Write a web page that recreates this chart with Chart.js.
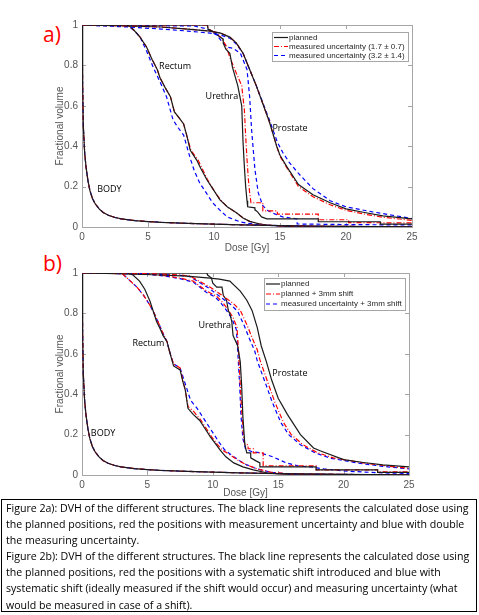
<!DOCTYPE html>
<html>
<head>
<meta charset="utf-8">
<script src="https://cdn.jsdelivr.net/npm/chart.js@4.4.0/dist/chart.umd.min.js"></script>
<style>
    body { margin: 0; background: #fff; width: 479px; height: 615px; position: relative; overflow: hidden; }
    canvas { position: absolute; left: 0; }
    #chartA { top: 0; }
    #chartB { top: 250px; }
    .tag { position: absolute; left: 43px; color: #ff0000; font-family: "Open Sans", sans-serif; font-size: 21px; line-height: 21px; }
    #caption {
        position: absolute; left: 1px; top: 499px; width: 470px; height: 111px;
        border: 1px solid #000; padding: 0 0 0 4px;
        font-family: "Open Sans", sans-serif; font-size: 10.6px; line-height: 16.1px; color: #000; white-space: nowrap;
    }
</style>
</head>
<body>
<div class="tag" style="top:24px">a)</div>
<div class="tag" style="top:253px">b)</div>
<canvas id="chartA" width="479" height="258"></canvas>
<canvas id="chartB" width="479" height="258"></canvas>
<div id="caption">Figure 2a): DVH of the different structures. The black line represents the calculated dose using<br>the planned positions, red the positions with measurement uncertainty and blue with double<br>the measuring uncertainty.<br>Figure 2b): DVH of the different structures. The black line represents the calculated dose using<br>the planned positions, red the positions with a systematic shift introduced and blue with<br>systematic shift (ideally measured if the shift would occur) and measuring uncertainty (what<br>would be measured in case of a shift).</div>

<script>
//---- data: dose [Gy] and fractional volume per curve ----

// BODY is the same for every curve
const bodyDose = [0, 0.05, 0.1, 0.2, 0.3, 0.45, 0.6, 0.8, 1.0, 1.3, 1.6, 2, 2.5, 3, 4, 5, 6, 8, 10, 12, 15, 18, 22, 25];
const bodyVol = [1, 0.7, 0.5, 0.37, 0.3, 0.23, 0.18, 0.14, 0.115, 0.09, 0.072, 0.058, 0.047, 0.04, 0.032, 0.027, 0.023, 0.018, 0.014, 0.011, 0.007, 0.004, 0.002, 0.001];

// --- figure a) ---
const rectumDoseA = [0, 3.4, 3.7, 4.0, 4.4, 4.9, 5.3, 5.7, 5.9, 6.3, 6.7, 7.0, 7.3, 7.7, 7.95, 8.2, 8.7, 9.0, 9.45, 10.0, 10.45, 11.0, 11.7, 12.2, 12.7, 13.4, 14.0, 15, 16, 25];
const rectumVolA = [1, 1, 0.99, 0.97, 0.94, 0.89, 0.83, 0.78, 0.74, 0.69, 0.645, 0.57, 0.545, 0.51, 0.45, 0.38, 0.33, 0.29, 0.235, 0.18, 0.134, 0.1, 0.07, 0.045, 0.028, 0.016, 0.01, 0.005, 0.002, 0];
const rectumDoseA2 = [0, 3.4, 3.7, 4.0, 4.4, 4.9, 5.3, 5.7, 5.9, 6.3, 6.7, 7.0, 7.3, 7.7, 7.95, 8.25, 8.8, 9.1, 9.5, 10.0, 10.5, 11.0, 11.7, 12.2, 12.7, 13.4, 14.0, 15, 16, 25];
const rectumVolA2 = [1, 1, 0.99, 0.97, 0.94, 0.89, 0.83, 0.78, 0.74, 0.69, 0.645, 0.57, 0.545, 0.51, 0.45, 0.38, 0.33, 0.29, 0.235, 0.18, 0.134, 0.1, 0.07, 0.045, 0.028, 0.016, 0.01, 0.005, 0.002, 0];
const rectumDoseA3 = [0, 3.0, 3.6, 4.0, 4.4, 4.9, 5.4, 5.9, 6.4, 6.9, 7.3, 7.7, 8.2, 8.5, 8.9, 9.4, 9.9, 10.5, 11, 12, 13, 14, 16, 25];
const rectumVolA3 = [1, 1, 0.99, 0.97, 0.94, 0.87, 0.79, 0.72, 0.645, 0.53, 0.49, 0.455, 0.34, 0.28, 0.22, 0.17, 0.12, 0.08, 0.05, 0.025, 0.014, 0.008, 0.003, 0];

const urethraDoseA = [0, 9.5, 9.55, 10.0, 10.45, 10.7, 10.7, 10.9, 11.2, 11.4, 11.8, 12.1, 12.2, 12.3, 12.4, 12.5, 12.55, 13.1, 13.1, 13.3, 13.6, 14.0, 17.9, 17.9, 22.6, 22.6, 25];
const urethraVolA = [1, 1, 0.98, 0.965, 0.94, 0.93, 0.91, 0.88, 0.86, 0.79, 0.7, 0.6, 0.42, 0.3, 0.2, 0.13, 0.1, 0.095, 0.085, 0.075, 0.05, 0.04, 0.04, 0.026, 0.026, 0.014, 0.014];
const urethraDoseA2 = [0, 9.5, 9.6, 10.0, 10.5, 10.9, 11.2, 11.7, 12.1, 12.3, 12.4, 12.5, 12.6, 12.7, 12.8, 13.7, 13.7, 14.8, 14.8, 17.9, 17.9, 20.2, 20.2, 25];
const urethraVolA2 = [1, 1, 0.98, 0.965, 0.94, 0.9, 0.84, 0.76, 0.7, 0.58, 0.45, 0.335, 0.24, 0.17, 0.12, 0.12, 0.08, 0.08, 0.064, 0.064, 0.036, 0.036, 0.022, 0.02];
const urethraDoseA3 = [0, 8.5, 9.5, 10.2, 10.7, 11.0, 11.45, 12.0, 12.5, 12.7, 12.85, 13.1, 13.35, 13.7, 14.1, 14.6, 15.2, 16.3, 16.3, 20, 25];
const urethraVolA3 = [1, 0.995, 0.98, 0.95, 0.91, 0.89, 0.885, 0.86, 0.78, 0.645, 0.48, 0.285, 0.17, 0.105, 0.08, 0.065, 0.05, 0.04, 0.015, 0.012, 0.01];

const prostateDoseA = [0, 3.5, 6, 8, 9.7, 10.5, 11.2, 11.7, 12.2, 12.7, 13.2, 13.7, 14.2, 14.75, 15.0, 15.5, 16.4, 17.5, 18.8, 20, 21.3, 22.8, 25];
const prostateVolA = [1, 0.995, 0.99, 0.98, 0.97, 0.96, 0.94, 0.91, 0.86, 0.78, 0.70, 0.61, 0.52, 0.40, 0.355, 0.30, 0.21, 0.16, 0.12, 0.09, 0.073, 0.055, 0.04];
const prostateDoseA2 = [0, 3.5, 6, 8, 9.7, 10.5, 11.2, 11.7, 12.2, 12.7, 13.2, 13.7, 14.2, 14.75, 15.0, 15.5, 16.4, 17.5, 18.8, 20, 21.3, 22.8, 25];
const prostateVolA2 = [1, 0.995, 0.99, 0.98, 0.97, 0.96, 0.94, 0.91, 0.86, 0.78, 0.70, 0.61, 0.52, 0.40, 0.35, 0.295, 0.2, 0.15, 0.11, 0.083, 0.065, 0.048, 0.033];
const prostateDoseA3 = [0, 3.5, 6, 8, 9.7, 10.5, 11.2, 11.7, 12.2, 12.7, 13.2, 13.7, 14.2, 14.8, 15.2, 15.7, 16.4, 17.5, 18.8, 20, 22, 25];
const prostateVolA3 = [1, 0.99, 0.98, 0.97, 0.96, 0.95, 0.935, 0.905, 0.86, 0.78, 0.70, 0.615, 0.53, 0.42, 0.37, 0.32, 0.265, 0.19, 0.13, 0.1, 0.075, 0.042];

// --- figure b) ---
const rectumDoseB = [0, 3.4, 3.9, 4.4, 4.8, 5.2, 5.7, 6.0, 6.2, 6.5, 6.7, 7.0, 7.5, 7.7, 7.9, 8.1, 8.5, 9.0, 9.4, 9.8, 10.2, 10.55, 11.0, 11.6, 12.3, 13.1, 14.2, 15.5, 25];
const rectumVolB = [1, 1, 0.99, 0.96, 0.92, 0.86, 0.76, 0.72, 0.69, 0.66, 0.61, 0.54, 0.52, 0.465, 0.42, 0.33, 0.3, 0.27, 0.23, 0.19, 0.155, 0.124, 0.09, 0.06, 0.04, 0.025, 0.01, 0.004, 0];
const rectumDoseB2 = [0, 3.0, 3.2, 3.7, 4.2, 4.7, 5.1, 5.45, 5.8, 6.2, 6.5, 6.7, 7.0, 7.5, 7.7, 7.9, 8.1, 8.6, 9.1, 9.5, 9.9, 10.3, 10.7, 11.3, 12.0, 12.6, 13.4, 14.5, 16, 25];
const rectumVolB2 = [1, 1, 0.99, 0.96, 0.93, 0.89, 0.85, 0.81, 0.76, 0.7, 0.66, 0.61, 0.55, 0.53, 0.47, 0.42, 0.34, 0.31, 0.27, 0.23, 0.19, 0.155, 0.125, 0.1, 0.07, 0.05, 0.03, 0.013, 0.004, 0];
const rectumDoseB3 = [0, 3.0, 3.2, 3.7, 4.2, 4.7, 5.1, 5.45, 5.8, 6.2, 6.5, 6.7, 7.0, 7.5, 7.8, 8.0, 8.3, 8.8, 9.3, 9.7, 10.1, 10.5, 10.9, 11.4, 12.0, 12.6, 13.4, 14.5, 16, 25];
const rectumVolB3 = [1, 1, 0.99, 0.96, 0.93, 0.89, 0.85, 0.81, 0.76, 0.7, 0.66, 0.61, 0.55, 0.53, 0.47, 0.43, 0.37, 0.33, 0.28, 0.24, 0.2, 0.16, 0.125, 0.1, 0.072, 0.05, 0.03, 0.013, 0.004, 0];

const urethraDoseB = [0, 9.55, 9.6, 9.9, 10.0, 10.3, 10.7, 10.8, 11.05, 11.2, 11.3, 11.45, 11.55, 11.9, 12.1, 12.2, 12.3, 12.45, 12.6, 12.9, 12.9, 13.3, 13.6, 13.6, 17.9, 17.9, 22.6, 22.6, 25];
const urethraVolB = [1, 1, 0.99, 0.975, 0.95, 0.93, 0.93, 0.89, 0.865, 0.81, 0.8, 0.76, 0.69, 0.64, 0.56, 0.45, 0.29, 0.15, 0.11, 0.11, 0.085, 0.07, 0.06, 0.04, 0.04, 0.025, 0.025, 0.013, 0.013];
const urethraDoseB2 = [0, 5, 6.5, 7.5, 8.5, 9.55, 10.3, 10.8, 11.2, 11.55, 11.85, 11.95, 12.1, 12.2, 12.35, 12.45, 12.7, 12.7, 13.1, 13.1, 13.85, 13.85, 17.9, 17.9, 22.6, 22.6, 25];
const urethraVolB2 = [1, 0.995, 0.985, 0.975, 0.96, 0.91, 0.885, 0.85, 0.815, 0.78, 0.73, 0.63, 0.45, 0.33, 0.19, 0.15, 0.15, 0.13, 0.13, 0.11, 0.11, 0.045, 0.045, 0.025, 0.025, 0.015, 0.015];
const urethraDoseB3 = [0, 5, 6.5, 7.5, 8.5, 9.5, 10.2, 10.7, 11.1, 11.45, 11.8, 11.9, 12.05, 12.15, 12.3, 12.5, 13.0, 13.6, 14.6, 15.6, 16.5, 17.5, 18.5, 20, 23, 25];
const urethraVolB3 = [1, 0.995, 0.983, 0.972, 0.955, 0.905, 0.88, 0.845, 0.81, 0.775, 0.72, 0.62, 0.45, 0.3, 0.18, 0.13, 0.115, 0.11, 0.09, 0.06, 0.045, 0.04, 0.03, 0.02, 0.01, 0.008];

const prostateDoseB = [0, 3.5, 6, 8, 9.8, 10.5, 11.3, 12.1, 12.6, 13.0, 13.4, 13.7, 14.1, 14.5, 15.0, 15.7, 16.7, 17.7, 18.2, 20, 21.5, 23, 25];
const prostateVolB = [1, 0.995, 0.99, 0.985, 0.975, 0.97, 0.96, 0.91, 0.865, 0.815, 0.73, 0.64, 0.56, 0.47, 0.38, 0.30, 0.2, 0.134, 0.12, 0.076, 0.062, 0.05, 0.04];
const prostateDoseB2 = [0, 3, 6, 7.5, 8.25, 9.8, 10.8, 11.55, 12.1, 12.6, 13.0, 13.4, 13.6, 14.25, 14.75, 15.4, 16.0, 16.9, 18, 19.2, 21.5, 23, 25];
const prostateVolB2 = [1, 0.998, 0.995, 0.99, 0.985, 0.93, 0.885, 0.85, 0.815, 0.745, 0.68, 0.62, 0.57, 0.45, 0.36, 0.26, 0.2, 0.15, 0.11, 0.085, 0.06, 0.047, 0.033];
const prostateDoseB3 = [0, 3, 6, 7.5, 8.25, 9.7, 10.6, 11.35, 11.9, 12.4, 12.8, 13.2, 13.4, 14.05, 14.55, 15.2, 15.8, 16.7, 17.8, 19, 21.3, 23, 25];
const prostateVolB3 = [1, 0.998, 0.993, 0.988, 0.982, 0.925, 0.88, 0.845, 0.81, 0.74, 0.675, 0.615, 0.565, 0.45, 0.36, 0.26, 0.2, 0.15, 0.11, 0.083, 0.057, 0.043, 0.03];

// legend texts and structure labels
const legendA = ["planned", "measured uncertainty (1.7 \u00b1 0.7)", "measured uncertainty (3.2 \u00b1 1.4)"];
const legendB = ["planned", "planned + 3mm shift", "measured uncertainty + 3mm shift"];
const structNames = ["BODY", "Rectum", "Urethra", "Prostate"];
const structDoseA = [2.08, 7.05, 10.6, 15.76];
const structVolA = [0.188, 0.797, 0.644, 0.49];
const structDoseB = [1.61, 5.08, 10.15, 15.9];
const structVolB = [0.208, 0.649, 0.738, 0.505];

const xTicks = [0, 5, 10, 15, 20, 25];

//---- helpers ----
function pts(xs, ys) {
    return xs.map((x, i) => ({ x: x, y: ys[i] }));
}

// line style per series: 0 planned, 1 red dash-dot, 2 blue dashed
const styles = [
    { color: "#1a1a1a", dash: [] },
    { color: "#ff0000", dash: [5, 2, 1, 2] },
    { color: "#0000ff", dash: [4, 3] }
];

function makeSet(label, xs, ys, k, showInLegend) {
    return {
        label: label,
        data: pts(xs, ys),
        borderColor: styles[k].color,
        borderDash: styles[k].dash,
        borderWidth: 1.2,
        pointRadius: 0,
        fill: false,
        tension: 0,
        inLegend: showInLegend
    };
}

// frame box plus MATLAB style inner ticks
const frameTicks = {
    id: "frameTicks",
    beforeDatasetsDraw(chart) {
        const { ctx, chartArea: a, scales } = chart;
        ctx.save();
        ctx.strokeStyle = "#a6a6a6";
        ctx.lineWidth = 1;
        ctx.strokeRect(a.left + 0.5, a.top + 0.5, a.right - a.left, a.bottom - a.top);
        ctx.beginPath();
        scales.x.ticks.forEach(t => {
            const px = Math.round(scales.x.getPixelForValue(t.value)) + 0.5;
            ctx.moveTo(px, a.bottom); ctx.lineTo(px, a.bottom - 4);
            ctx.moveTo(px, a.top); ctx.lineTo(px, a.top + 4);
        });
        scales.y.ticks.forEach(t => {
            const py = Math.round(scales.y.getPixelForValue(t.value)) + 0.5;
            ctx.moveTo(a.left, py); ctx.lineTo(a.left + 4, py);
            ctx.moveTo(a.right, py); ctx.lineTo(a.right - 4, py);
        });
        ctx.stroke();
        ctx.restore();
    }
};

// structure names written at data positions
const structLabels = {
    id: "structLabels",
    afterDatasetsDraw(chart, args, opts) {
        const { ctx, scales } = chart;
        ctx.save();
        ctx.font = '9px "Open Sans"';
        ctx.fillStyle = "#000";
        ctx.textAlign = "center";
        ctx.textBaseline = "middle";
        opts.names.forEach((n, i) => {
            ctx.fillText(n, scales.x.getPixelForValue(opts.xs[i]), scales.y.getPixelForValue(opts.ys[i]));
        });
        ctx.restore();
    }
};

// boxed legend in the top right corner
const boxLegend = {
    id: "boxLegend",
    afterDraw(chart, args, opts) {
        const { ctx, chartArea: a } = chart;
        const items = chart.data.datasets.filter(d => d.inLegend);
        ctx.save();
        ctx.font = '8px "Liberation Sans"';
        let tw = 0;
        items.forEach(d => { tw = Math.max(tw, ctx.measureText(d.label).width); });
        const w = opts.sample + 3 + tw + 3;
        const h = items.length * opts.row + 2;
        const left = Math.round(a.right - opts.right - w);
        const top = Math.round(a.top + opts.top);
        ctx.fillStyle = "#fff";
        ctx.fillRect(left, top, w, h);
        ctx.strokeStyle = "#a6a6a6";
        ctx.lineWidth = 1;
        ctx.strokeRect(left + 0.5, top + 0.5, Math.round(w), Math.round(h));
        items.forEach((d, i) => {
            const yy = top + 1 + opts.row * (i + 0.5);
            ctx.beginPath();
            ctx.setLineDash(d.borderDash);
            ctx.strokeStyle = d.borderColor;
            ctx.lineWidth = 1.2;
            ctx.moveTo(left + 2, yy);
            ctx.lineTo(left + 2 + opts.sample, yy);
            ctx.stroke();
            ctx.setLineDash([]);
            ctx.fillStyle = "#262626";
            ctx.textBaseline = "middle";
            ctx.fillText(d.label, left + opts.sample + 3, yy);
        });
        ctx.restore();
    }
};

function drawChart(id, sets, pad, yWidth, xHeight, labelPos, legendPos) {
    const ctx = document.getElementById(id).getContext("2d");
    return new Chart(ctx, {
        type: "line",
        data: { datasets: sets },
        options: {
            responsive: false,
            animation: false,
            layout: { padding: pad },
            plugins: {
                legend: { display: false },
                tooltip: { enabled: false },
                structLabels: labelPos,
                boxLegend: legendPos
            },
            scales: {
                x: {
                    type: "linear", min: 0, max: 25,
                    afterBuildTicks: s => { s.ticks = xTicks.map(v => ({ value: v })); },
                    afterFit: s => { s.height = xHeight; },
                    grid: { display: false, drawTicks: false },
                    border: { display: false },
                    ticks: { color: "#555", padding: 4, font: { family: "Liberation Sans", size: 10 }, maxRotation: 0, autoSkip: false },
                    title: { display: true, text: "Dose [Gy]", color: "#555", padding: { top: 0, bottom: 4 }, font: { family: "Liberation Sans", size: 10 } }
                },
                y: {
                    type: "linear", min: 0, max: 1,
                    afterFit: s => { s.width = yWidth; },
                    grid: { display: false, drawTicks: false },
                    border: { display: false },
                    ticks: {
                        color: "#555", padding: 4, stepSize: 0.2, font: { family: "Liberation Sans", size: 10 },
                        callback: v => String(Number(v.toFixed(1)))
                    },
                    title: { display: true, text: "Fractional volume", color: "#555", padding: { top: 4, bottom: 0 }, font: { family: "Liberation Sans", size: 10 } }
                }
            }
        },
        plugins: [frameTicks, structLabels, boxLegend]
    });
}

document.addEventListener("DOMContentLoaded", () => {
    //1. figure a)
    const setsA = [
        makeSet(legendA[0], prostateDoseA, prostateVolA, 0, true),
        makeSet(legendA[1], prostateDoseA2, prostateVolA2, 1, true),
        makeSet(legendA[2], prostateDoseA3, prostateVolA3, 2, true),
        makeSet("body", bodyDose, bodyVol, 0, false),
        makeSet("body", bodyDose, bodyVol, 1, false),
        makeSet("body", bodyDose, bodyVol, 2, false),
        makeSet("rectum", rectumDoseA, rectumVolA, 0, false),
        makeSet("rectum", rectumDoseA2, rectumVolA2, 1, false),
        makeSet("rectum", rectumDoseA3, rectumVolA3, 2, false),
        makeSet("urethra", urethraDoseA, urethraVolA, 0, false),
        makeSet("urethra", urethraDoseA2, urethraVolA2, 1, false),
        makeSet("urethra", urethraDoseA3, urethraVolA3, 2, false)
    ];
    drawChart("chartA", setsA, { left: 50, right: 67, top: 25, bottom: 0 }, 32, 31,
        { names: structNames, xs: structDoseA, ys: structVolA },
        { right: 4, top: 7, row: 9, sample: 14 });

    //2. figure b)
    const setsB = [
        makeSet(legendB[0], prostateDoseB, prostateVolB, 0, true),
        makeSet(legendB[1], prostateDoseB2, prostateVolB2, 1, true),
        makeSet(legendB[2], prostateDoseB3, prostateVolB3, 2, true),
        makeSet("body", bodyDose, bodyVol, 0, false),
        makeSet("body", bodyDose, bodyVol, 1, false),
        makeSet("body", bodyDose, bodyVol, 2, false),
        makeSet("rectum", rectumDoseB, rectumVolB, 0, false),
        makeSet("rectum", rectumDoseB2, rectumVolB2, 1, false),
        makeSet("rectum", rectumDoseB3, rectumVolB3, 2, false),
        makeSet("urethra", urethraDoseB, urethraVolB, 0, false),
        makeSet("urethra", urethraDoseB2, urethraVolB2, 1, false),
        makeSet("urethra", urethraDoseB3, urethraVolB3, 2, false)
    ];
    drawChart("chartB", setsB, { left: 50, right: 70, top: 23, bottom: 5 }, 32, 28,
        { names: structNames, xs: structDoseB, ys: structVolB },
        { right: 4, top: 5, row: 10, sample: 14 });
});
</script>
</body>
</html>
